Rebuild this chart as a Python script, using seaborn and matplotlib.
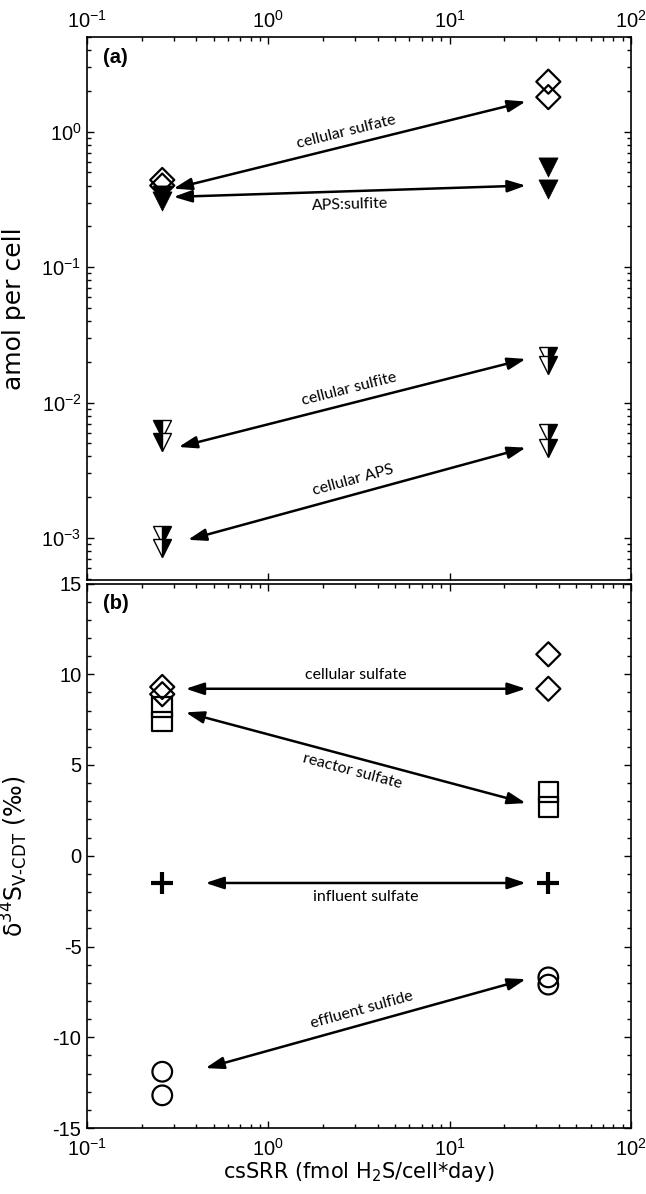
import numpy as np
import pandas as pd
import matplotlib
matplotlib.use("Agg")
import matplotlib.pyplot as plt
import seaborn as sns
from matplotlib.ticker import MultipleLocator, LogLocator, NullFormatter

sns.set_style("ticks")
plt.rcParams['font.family'] = ['Liberation Sans', 'DejaVu Sans']
plt.rcParams['mathtext.default'] = 'regular'
plt.rcParams['axes.unicode_minus'] = False
for k in ['text.color', 'axes.labelcolor', 'xtick.color', 'ytick.color', 'axes.edgecolor']:
    plt.rcParams[k] = 'black'

# csSRR of the two runs (fmol H2S/cell*day)
cssrr = [0.26, 35.0]

# panel (a): amol per cell, two samples per run -> [low rate pair, high rate pair]
sulfate_amol = [[0.44, 0.40], [2.34, 1.80]]
aps_sulfite_amol = [[0.34, 0.31], [0.55, 0.38]]
sulfite_amol = [[0.0064, 0.0051], [0.022, 0.019]]
aps_amol = [[0.00105, 0.00084], [0.0060, 0.0046]]

# panel (b): d34S (permil)
cell_sulfate_d34 = [[9.3, 8.9], [11.1, 9.2]]
reactor_sulfate_d34 = [[8.2, 7.4], [3.5, 2.7]]
influent_d34 = [[-1.5], [-1.5]]
effluent_d34 = [[-11.9, -13.2], [-6.7, -7.1]]

# arrows: label, (x0, y0), (x1, y1), side of label (+1 above, -1 below)
arrows_a = [
    ("cellular sulfate", (0.30, 0.38), (26.3, 1.67), 1),
    ("APS:sulfite", (0.30, 0.33), (26.3, 0.40), -1),
    ("cellular sulfite", (0.32, 0.0047), (26.3, 0.021), 1),
    ("cellular APS", (0.36, 0.00097), (26.3, 0.00465), 1),
]
arrows_b = [
    ("cellular sulfate", (0.35, 9.2), (26.3, 9.2), 1),
    ("reactor sulfate", (0.35, 7.9), (26.3, 2.9), -1),
    ("influent sulfate", (0.45, -1.5), (26.3, -1.5), -1),
    ("effluent sulfide", (0.45, -11.7), (26.3, -6.8), 1),
]


def long_frame(pairs):
    rows = []
    for x, ys in zip(cssrr, pairs):
        for y in ys:
            rows.append({"x": x, "y": y})
    return pd.DataFrame(rows)


def style_axis(ax):
    for s in ax.spines.values():
        s.set_linewidth(1.2)
        s.set_color('black')
    ax.tick_params(which='both', direction='in', top=True, right=True,
                   color='black', width=1.0)
    ax.tick_params(which='major', length=5, labelsize=14.5, pad=4)
    ax.tick_params(which='minor', length=3)


def draw_arrows(ax, arrows):
    for label, p0, p1, side in arrows:
        ax.annotate('', xy=p1, xytext=p0,
                    arrowprops=dict(arrowstyle='<|-|>,head_length=1.0,head_width=0.33',
                                    lw=1.8, color='black', shrinkA=0, shrinkB=0,
                                    mutation_scale=11))
        d0 = ax.transData.transform(p0)
        d1 = ax.transData.transform(p1)
        ang = np.degrees(np.arctan2(d1[1] - d0[1], d1[0] - d0[0]))
        mid = (d0 + d1) / 2
        nrm = np.array([-np.sin(np.radians(ang)), np.cos(np.radians(ang))])
        pos = ax.transData.inverted().transform(mid + side * 14 * nrm)
        ax.text(pos[0], pos[1], label, rotation=ang, rotation_mode='anchor',
                ha='center', va='center', fontsize=11.5, family=['Lato', 'DejaVu Sans'])


fig = plt.figure(figsize=(6.46, 11.94), dpi=100)
ax_a = fig.add_axes([87 / 646, 1 - 580 / 1194, 544 / 646, 543 / 1194])
ax_b = fig.add_axes([87 / 646, 1 - 1128 / 1194, 544 / 646, 544.5 / 1194])

# ---- panel (a)
ax_a.set_xscale('log')
ax_a.set_yscale('log')
ax_a.set_xlim(0.1, 100)
ax_a.set_ylim(4.9e-4, 5.0)

open_kw = dict(facecolor='none', edgecolor='black', linewidth=1.6, legend=False)
sns.scatterplot(data=long_frame(sulfate_amol), x='x', y='y', marker='D', s=150, ax=ax_a, **open_kw)
sns.scatterplot(data=long_frame(aps_sulfite_amol), x='x', y='y', marker='v', s=190,
                color='black', edgecolor='black', linewidth=0.5, ax=ax_a, legend=False)
d = long_frame(sulfite_amol)
fs = ['left', 'right']
for i, x in enumerate(cssrr):
    sub = d[d.x == x]
    ax_a.plot(sub.x, sub.y, ls='none', marker='v', ms=13.5, fillstyle=fs[i],
              markerfacecolor='black', markerfacecoloralt='white',
              markeredgecolor='black', markeredgewidth=1.0)
d = long_frame(aps_amol)
fs = ['right', 'right']
for i, x in enumerate(cssrr):
    sub = d[d.x == x]
    ax_a.plot(sub.x, sub.y, ls='none', marker='v', ms=13.5, fillstyle=fs[i],
              markerfacecolor='black', markerfacecoloralt='white',
              markeredgecolor='black', markeredgewidth=1.0)

ax_a.xaxis.tick_top()
ax_a.xaxis.set_label_position('top')
ax_a.set_xlabel('')
ax_a.set_ylabel('amol per cell', fontsize=18, family=['DejaVu Sans'])
ax_a.yaxis.set_label_coords(-0.112, 0.5)
ax_a.xaxis.set_minor_locator(LogLocator(base=10, subs=np.arange(2, 10)))
ax_a.yaxis.set_minor_locator(LogLocator(base=10, subs=np.arange(2, 10)))
ax_a.xaxis.set_minor_formatter(NullFormatter())
ax_a.yaxis.set_minor_formatter(NullFormatter())
style_axis(ax_a)
ax_a.tick_params(axis='x', labeltop=True, labelbottom=False, bottom=True)
ax_a.text(0.03, 0.963, '(a)', transform=ax_a.transAxes, fontsize=14.5,
          fontweight='bold', va='center')
draw_arrows(ax_a, arrows_a)

# ---- panel (b)
ax_b.set_xscale('log')
ax_b.set_xlim(0.1, 100)
ax_b.set_ylim(-15, 15)
sns.scatterplot(data=long_frame(cell_sulfate_d34), x='x', y='y', marker='D', s=150, ax=ax_b, **open_kw)
sns.scatterplot(data=long_frame(reactor_sulfate_d34), x='x', y='y', marker='s', s=200, ax=ax_b, **open_kw)
sns.scatterplot(data=long_frame(influent_d34), x='x', y='y', marker='+', s=260,
                color='black', linewidth=3, ax=ax_b, legend=False)
sns.scatterplot(data=long_frame(effluent_d34), x='x', y='y', marker='o', s=200, ax=ax_b, **open_kw)

ax_b.yaxis.set_major_locator(MultipleLocator(5))
ax_b.yaxis.set_minor_locator(MultipleLocator(1))
ax_b.xaxis.set_minor_locator(LogLocator(base=10, subs=np.arange(2, 10)))
ax_b.xaxis.set_minor_formatter(NullFormatter())
ax_b.set_xlabel('csSRR (fmol H$_2$S/cell*day)', fontsize=15, family=['DejaVu Sans'])
ax_b.xaxis.set_label_coords(0.5, -0.058)
ax_b.set_ylabel('δ$^{34}$S$_{V\u2010CDT}$ (‰)', fontsize=17, family=['DejaVu Sans'])
ax_b.yaxis.set_label_coords(-0.105, 0.5)
style_axis(ax_b)
ax_b.tick_params(axis='x', pad=7)
ax_b.text(0.03, 0.963, '(b)', transform=ax_b.transAxes, fontsize=14.5,
          fontweight='bold', va='center')
draw_arrows(ax_b, arrows_b)

fig.savefig('out.png', dpi=100)
